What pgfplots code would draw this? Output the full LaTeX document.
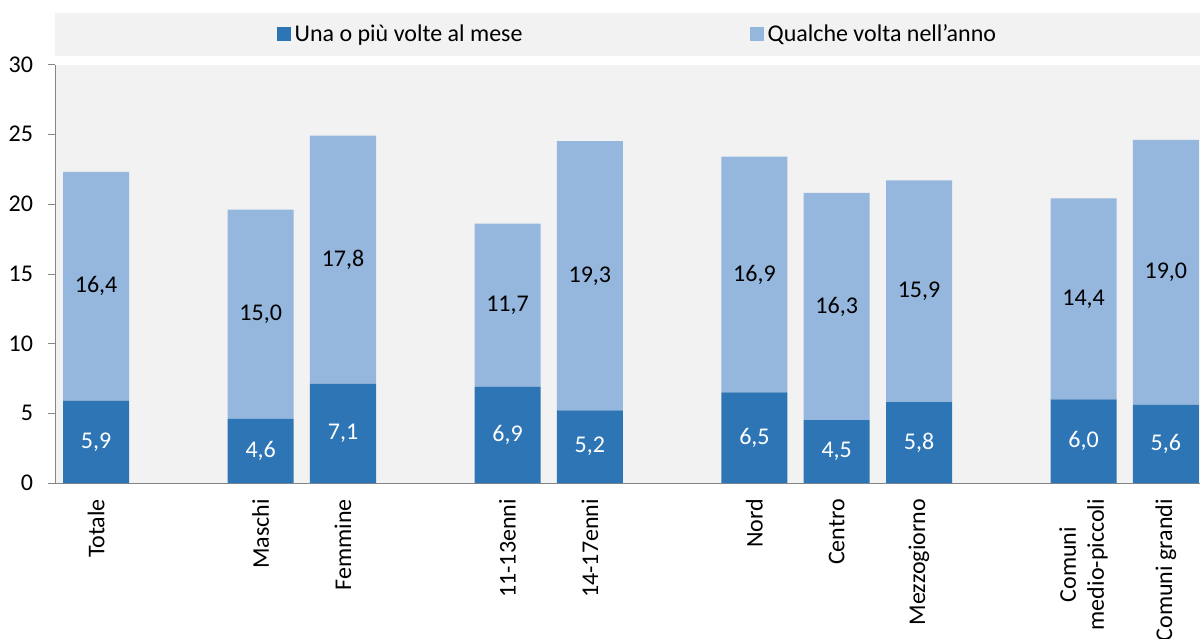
\documentclass[border=0pt]{standalone}
\usepackage{pgfplots}
\pgfplotsset{compat=1.18}
\usepackage{fontspec}
\setmainfont{Carlito}
\definecolor{dark}{HTML}{2E75B6}
\definecolor{light}{HTML}{95B7DE}
\definecolor{bg}{HTML}{F2F2F2}
\definecolor{axgray}{HTML}{868686}
\begin{document}
\begin{tikzpicture}[font=\fontsize{12}{14.4}\selectfont]
\begin{axis}[
  scale only axis, width=572.5pt, height=209.25pt,
  xmin=-0.5, xmax=13.415, ymin=0, ymax=30,
  ybar stacked, bar width=33pt,
  axis background/.style={fill=bg},
  axis x line*=bottom, axis y line*=left,
  axis line style={draw=axgray,-},
  /pgf/number format/assume math mode=true,
  ytick={0,5,...,30},
  xtick={0,...,13},
  xticklabels={Totale,{},Maschi,Femmine,{},11-13enni,14-17enni,{},Nord,Centro,Mezzogiorno,{},{Comuni\\medio-piccoli},Comuni grandi},
  x tick style={draw=none},
  extra x ticks={-0.5,0.5,...,12.5},
  extra x tick labels={},
  extra x tick style={tick style={draw=axgray}, major tick length=4pt},
  y tick style={draw=axgray},
  major tick length=3.5pt,
  tick align=outside,
  xticklabel style={rotate=90, anchor=east, align=center, font=\fontsize{12}{14}\selectfont, xshift=-1pt},
  yticklabel style={font=\fontsize{12}{14.4}\selectfont, xshift=-4pt},
  clip=false,
  legend columns=2,
  legend style={at={(axis description cs:0.5095,1.0717)}, anchor=center, draw=none, fill=none,
    font=\fontsize{12}{14.4}\selectfont,
    /tikz/every even column/.append style={column sep=111.5pt}},
  legend image code/.code={\fill[#1] (-2.5pt,-3.5pt) rectangle (4.5pt,3.5pt);},
]
\fill[bg] (axis description cs:0,1.0203) rectangle (axis description cs:1,1.1231);
\addplot[fill=dark, draw=none,
  nodes near coords={\pgfmathprintnumber[fixed,fixed zerofill,precision=1,use comma]{\pgfplotspointmeta}},
  every node near coord/.style={text=white, font=\fontsize{12}{14.4}\selectfont, anchor=center}] coordinates {
(0,5.9) (2,4.6) (3,7.1) (5,6.9) (6,5.2) (8,6.5) (9,4.5) (10,5.8) (12,6.0) (13,5.6)};
\addlegendentry{Una o più volte al mese}
\addplot[fill=light, draw=none,
  nodes near coords={\pgfmathprintnumber[fixed,fixed zerofill,precision=1,use comma]{\pgfplotspointmeta}},
  every node near coord/.style={text=black, font=\fontsize{12}{14.4}\selectfont, anchor=center}] coordinates {
(0,16.4) (2,15.0) (3,17.8) (5,11.7) (6,19.3) (8,16.9) (9,16.3) (10,15.9) (12,14.4) (13,19.0)};
\addlegendentry{Qualche volta nell’anno}
\end{axis}
\pgfresetboundingbox
\path[use as bounding box] ([xshift=-27.5pt,yshift=-77.5pt]current axis.south west) rectangle ([yshift=32.25pt]current axis.north east);
\end{tikzpicture}
\end{document}
